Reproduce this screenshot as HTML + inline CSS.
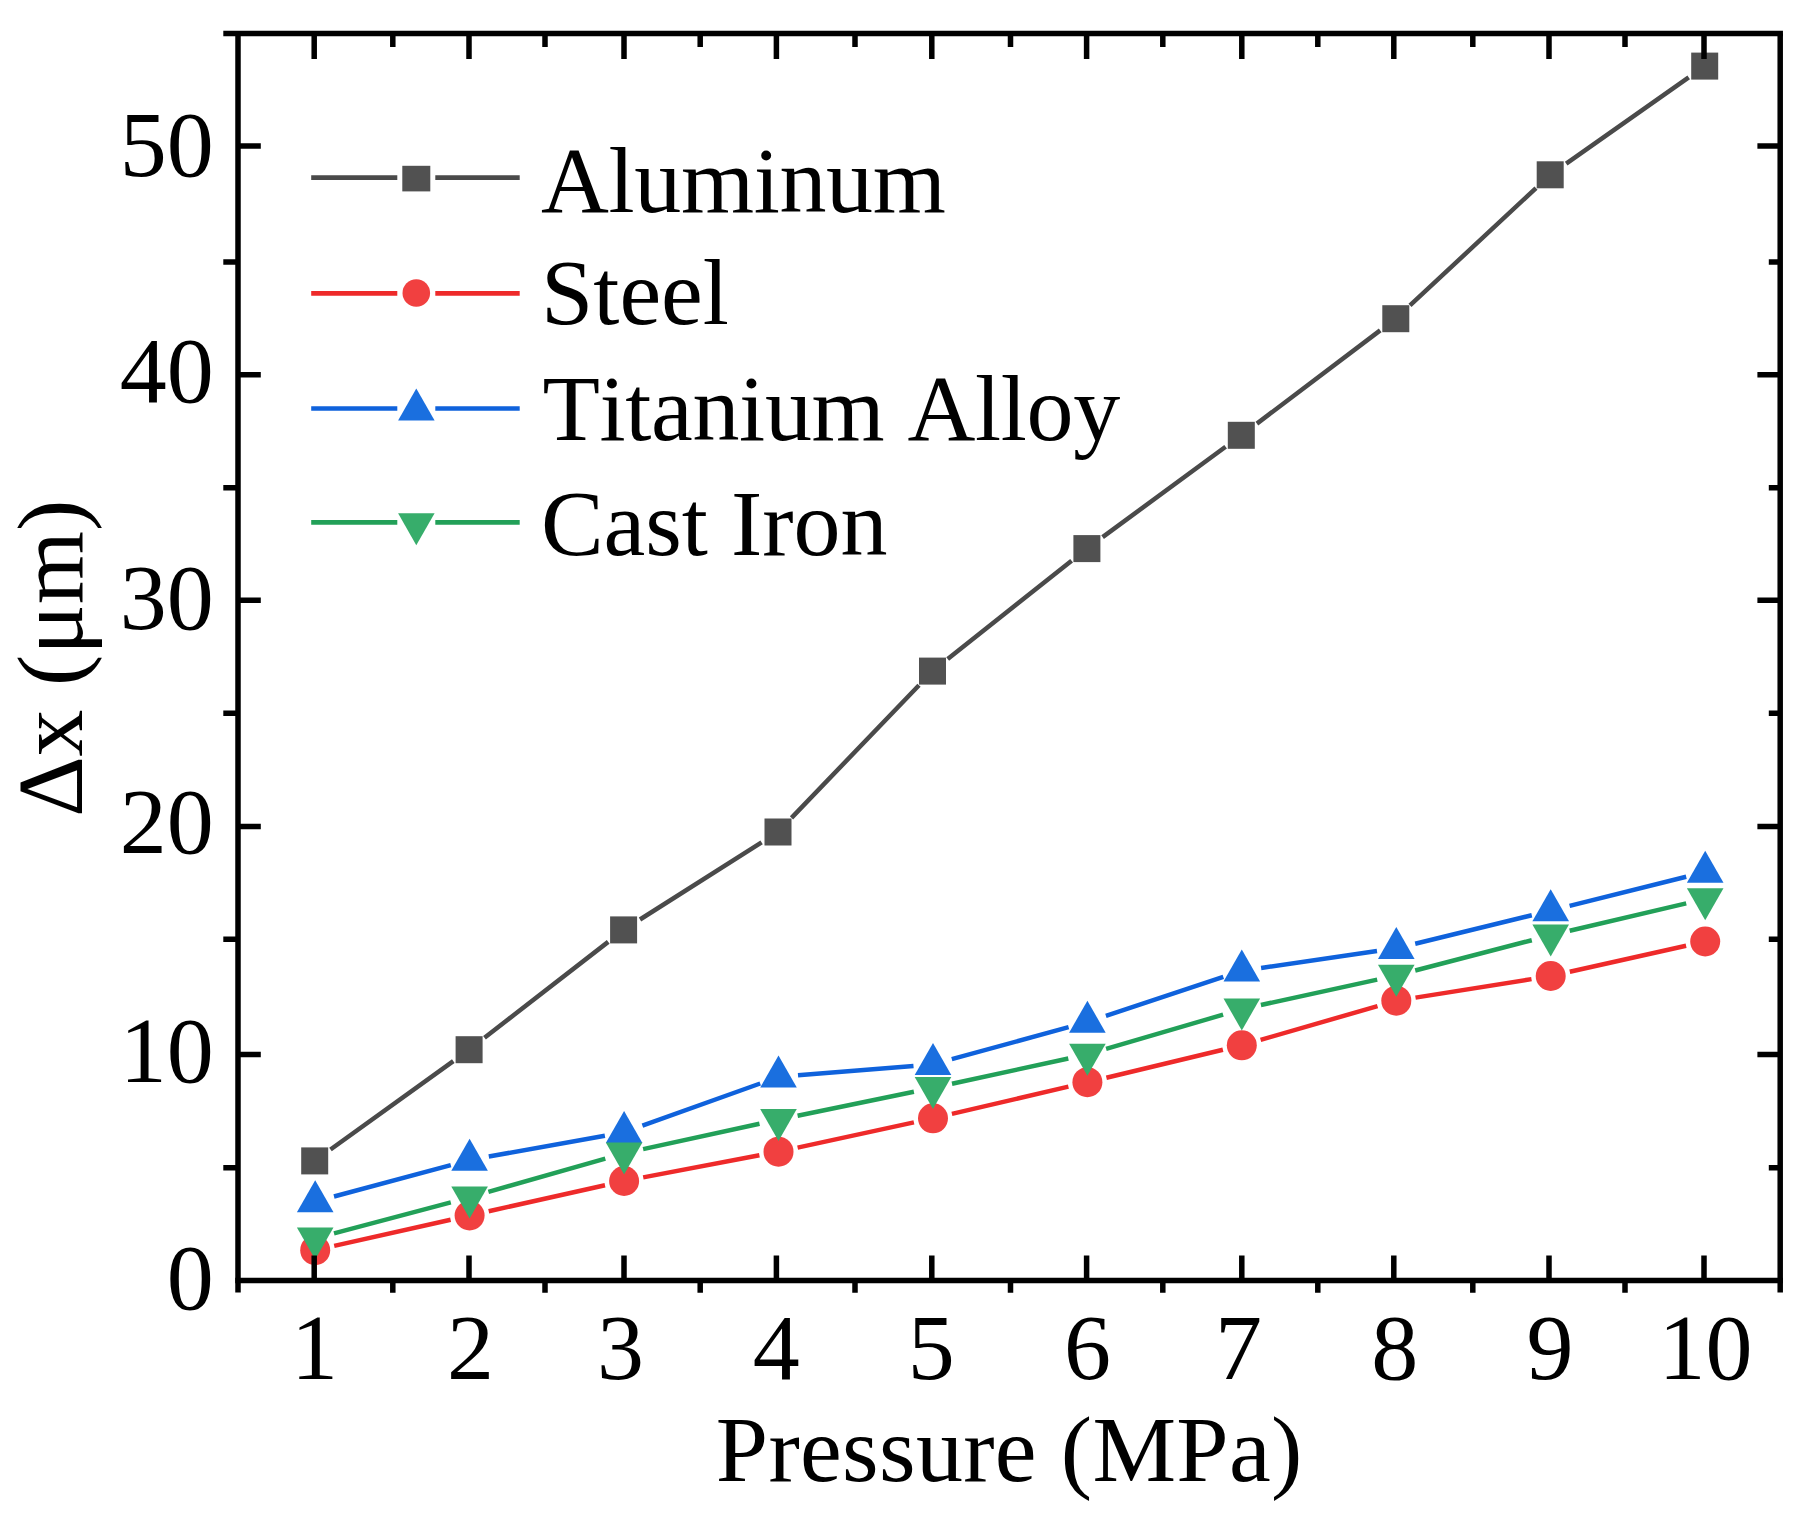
<!DOCTYPE html>
<html lang="en">
<head>
<meta charset="utf-8">
<title>Pressure vs displacement</title>
<style>
html,body{margin:0;padding:0;background:#fff;}
body{width:1814px;height:1532px;overflow:hidden;}
svg{display:block;filter:blur(0.6px);}
text{font-family:"Liberation Serif", serif;font-size:94px;fill:#000;font-kerning:none;}
</style>
</head>
<body>
<svg width="1814" height="1532" viewBox="0 0 1814 1532">
<rect width="1814" height="1532" fill="#fff"/>
<g id="data" stroke-linecap="butt" fill="none">
<path d="M330.5,1149.5L453.3,1061.1M484.5,1037.7L608.2,941.9M640.0,919.5L761.6,842.4M791.5,817.9L919.0,685.2M947.7,659.0L1071.6,560.7M1102.6,537.1L1225.6,446.8M1256.9,423.6L1380.2,330.4M1410.0,305.4L1536.0,188.1M1566.2,163.6L1688.7,77.3" stroke="#4a4a4a" stroke-width="4.5"/>
<g stroke="none"><rect x="301.2" y="1147.4" width="27" height="27" fill="#515151"/><rect x="455.6" y="1036.2" width="27" height="27" fill="#515151"/><rect x="610.1" y="916.4" width="27" height="27" fill="#515151"/><rect x="764.5" y="818.5" width="27" height="27" fill="#515151"/><rect x="919.0" y="657.6" width="27" height="27" fill="#515151"/><rect x="1073.4" y="535.1" width="27" height="27" fill="#515151"/><rect x="1227.8" y="421.8" width="27" height="27" fill="#515151"/><rect x="1382.3" y="305.2" width="27" height="27" fill="#515151"/><rect x="1536.7" y="161.3" width="27" height="27" fill="#515151"/><rect x="1691.2" y="52.6" width="27" height="27" fill="#515151"/></g>
<path d="M334.2,1245.9L450.6,1219.8M488.7,1211.2L605.0,1185.3M643.2,1177.4L759.4,1155.3M797.6,1147.6L913.9,1122.4M951.9,1113.9L1068.4,1086.6M1106.4,1077.7L1222.9,1049.8M1260.6,1039.9L1377.5,1006.1M1415.5,997.6L1531.5,979.1M1569.8,971.7L1686.1,945.8" stroke="#EE2A2A" stroke-width="4.5"/>
<g stroke="none"><circle cx="315.2" cy="1250.2" r="15" fill="#F14040"/><circle cx="469.6" cy="1215.5" r="15" fill="#F14040"/><circle cx="624.1" cy="1181.0" r="15" fill="#F14040"/><circle cx="778.5" cy="1151.7" r="15" fill="#F14040"/><circle cx="933.0" cy="1118.3" r="15" fill="#F14040"/><circle cx="1087.4" cy="1082.2" r="15" fill="#F14040"/><circle cx="1241.8" cy="1045.3" r="15" fill="#F14040"/><circle cx="1396.3" cy="1000.7" r="15" fill="#F14040"/><circle cx="1550.7" cy="976.0" r="15" fill="#F14040"/><circle cx="1705.2" cy="941.5" r="15" fill="#F14040"/></g>
<path d="M334.0,1196.5L450.8,1165.1M488.8,1156.5L604.9,1135.7M642.4,1125.6L760.2,1083.5M798.0,1075.3L913.5,1065.9M951.8,1059.1L1068.6,1027.2M1105.9,1015.9L1223.3,976.8M1261.1,967.9L1377.0,951.1M1415.2,943.7L1531.8,915.2M1569.6,905.9L1686.2,876.7" stroke="#0F62DC" stroke-width="4.5"/>
<g stroke="none"><polygon points="315.2,1180.3 333.5,1212.3 296.9,1212.3" fill="#1A6FDF"/><polygon points="469.6,1138.7 487.9,1170.7 451.3,1170.7" fill="#1A6FDF"/><polygon points="624.1,1110.9 642.4,1142.9 605.8,1142.9" fill="#1A6FDF"/><polygon points="778.5,1055.6 796.8,1087.6 760.2,1087.6" fill="#1A6FDF"/><polygon points="933.0,1043.0 951.3,1075.0 914.7,1075.0" fill="#1A6FDF"/><polygon points="1087.4,1000.7 1105.7,1032.7 1069.1,1032.7" fill="#1A6FDF"/><polygon points="1241.8,949.4 1260.1,981.4 1223.5,981.4" fill="#1A6FDF"/><polygon points="1396.3,927.0 1414.6,959.0 1378.0,959.0" fill="#1A6FDF"/><polygon points="1550.7,889.3 1569.0,921.3 1532.4,921.3" fill="#1A6FDF"/><polygon points="1705.2,850.7 1723.5,882.7 1686.9,882.7" fill="#1A6FDF"/></g>
<path d="M334.0,1233.3L450.8,1202.3M488.4,1191.9L605.3,1158.6M643.1,1149.1L759.5,1123.8M797.6,1115.8L913.9,1091.7M952.0,1083.7L1068.3,1058.5M1106.1,1048.9L1223.1,1014.7M1260.9,1005.0L1377.2,979.6M1415.2,970.5L1531.8,940.2M1569.7,930.8L1686.2,903.4" stroke="#22A058" stroke-width="4.5"/>
<g stroke="none"><polygon points="315.2,1259.6 333.5,1227.6 296.9,1227.6" fill="#37AD6B"/><polygon points="469.6,1218.6 487.9,1186.6 451.3,1186.6" fill="#37AD6B"/><polygon points="624.1,1174.5 642.4,1142.5 605.8,1142.5" fill="#37AD6B"/><polygon points="778.5,1141.0 796.8,1109.0 760.2,1109.0" fill="#37AD6B"/><polygon points="933.0,1109.1 951.3,1077.1 914.7,1077.1" fill="#37AD6B"/><polygon points="1087.4,1075.7 1105.7,1043.7 1069.1,1043.7" fill="#37AD6B"/><polygon points="1241.8,1030.5 1260.1,998.5 1223.5,998.5" fill="#37AD6B"/><polygon points="1396.3,996.7 1414.6,964.7 1378.0,964.7" fill="#37AD6B"/><polygon points="1550.7,956.6 1569.0,924.6 1532.4,924.6" fill="#37AD6B"/><polygon points="1705.2,920.2 1723.5,888.2 1686.9,888.2" fill="#37AD6B"/></g>
</g>
<g id="axes" stroke="#000" stroke-width="5.5" stroke-linecap="butt" fill="none">
<path d="M223.3,33.4H1782.95"/>
<path d="M235.25,1280.6H1782.95"/>
<path d="M238.0,33.4V1292.3999999999999"/>
<path d="M1780.2,33.4V1292.3999999999999"/>
<path d="M314.2,1280.6v-25M314.2,33.4v25.5M469.0,1280.6v-25M469.0,33.4v25.5M624.0,1280.6v-25M624.0,33.4v25.5M776.4,1280.6v-25M776.4,33.4v25.5M931.8,1280.6v-25M931.8,33.4v25.5M1086.6,1280.6v-25M1086.6,33.4v25.5M1241.8,1280.6v-25M1241.8,33.4v25.5M1393.8,1280.6v-25M1393.8,33.4v25.5M1549.0,1280.6v-25M1549.0,33.4v25.5M1704.0,1280.6v-25M1704.0,33.4v25.5M392.8,1280.6v12.2M392.8,33.4v13.6M545.0,1280.6v12.2M545.0,33.4v13.6M700.2,1280.6v12.2M700.2,33.4v13.6M855.0,1280.6v12.2M855.0,33.4v13.6M1010.5,1280.6v12.2M1010.5,33.4v13.6M1162.8,1280.6v12.2M1162.8,33.4v13.6M1317.8,1280.6v12.2M1317.8,33.4v13.6M1472.8,1280.6v12.2M1472.8,33.4v13.6M1625.0,1280.6v12.2M1625.0,33.4v13.6M238.0,1054.4h22.8M1780.2,1054.4h-22.8M238.0,826.5h22.8M1780.2,826.5h-22.8M238.0,600.3h22.8M1780.2,600.3h-22.8M238.0,374.7h22.8M1780.2,374.7h-22.8M238.0,146.1h22.8M1780.2,146.1h-22.8M238.0,1167.7h-14.7M1780.2,1167.7h-11.4M238.0,939.2h-14.7M1780.2,939.2h-11.4M238.0,713.3h-14.7M1780.2,713.3h-11.4M238.0,487.8h-14.7M1780.2,487.8h-11.4M238.0,262.1h-14.7M1780.2,262.1h-11.4"/>
</g>
<g id="ylabels" text-anchor="end">
<text x="213.7" y="1308.5">0</text>
<text x="213.7" y="1082.2">10</text>
<text x="213.7" y="853.2">20</text>
<text x="213.7" y="628.5">30</text>
<text x="213.7" y="402.1">40</text>
<text x="213.7" y="176.3">50</text>
</g>
<g id="xlabels" text-anchor="middle">
<text x="314.5" y="1379.3">1</text>
<text x="470.4" y="1379.3">2</text>
<text x="620.4" y="1379.3">3</text>
<text x="776.2" y="1379.3">4</text>
<text x="931.3" y="1379.3">5</text>
<text x="1087.6" y="1379.3">6</text>
<text x="1238.6" y="1379.3">7</text>
<text x="1394.8" y="1379.3">8</text>
<text x="1550.0" y="1379.3">9</text>
<text x="1705.5" y="1379.3">10</text>
</g>
<text x="1009.2" y="1481" text-anchor="middle" letter-spacing="0.33">Pressure (MPa)</text>
<text transform="translate(82.3,658.3) rotate(-90)" text-anchor="middle">Δx (μm)</text>
<g id="legend">
<path d="M311.2,177.6H397.3M435.3,177.6H519.7" stroke="#4a4a4a" stroke-width="4.7" fill="none"/>
<rect x="402.3" y="165.8" width="28" height="25.6" fill="#515151"/>
<text x="541" y="211.6" letter-spacing="-0.36">Aluminum</text>
<path d="M311.2,293.3H397.3M435.3,293.3H519.7" stroke="#EE2A2A" stroke-width="4.7" fill="none"/>
<circle cx="416.3" cy="293.0" r="13.8" fill="#F14040"/>
<text x="541" y="323.8" letter-spacing="0">Steel</text>
<path d="M311.2,408.5H397.3M435.3,408.5H519.7" stroke="#0F62DC" stroke-width="4.7" fill="none"/>
<polygon points="416.3,388.5 434.6,420.5 398.1,420.5" fill="#1A6FDF"/>
<text x="542.5" y="439.8" letter-spacing="-0.35">Titanium Alloy</text>
<path d="M311.2,522.3H397.3M435.3,522.3H519.7" stroke="#22A058" stroke-width="4.7" fill="none"/>
<polygon points="416.3,545.3 434.6,513.3 398.1,513.3" fill="#37AD6B"/>
<text x="541" y="554.8" letter-spacing="-0.1">Cast Iron</text>
</g>
</svg>
</body>
</html>
